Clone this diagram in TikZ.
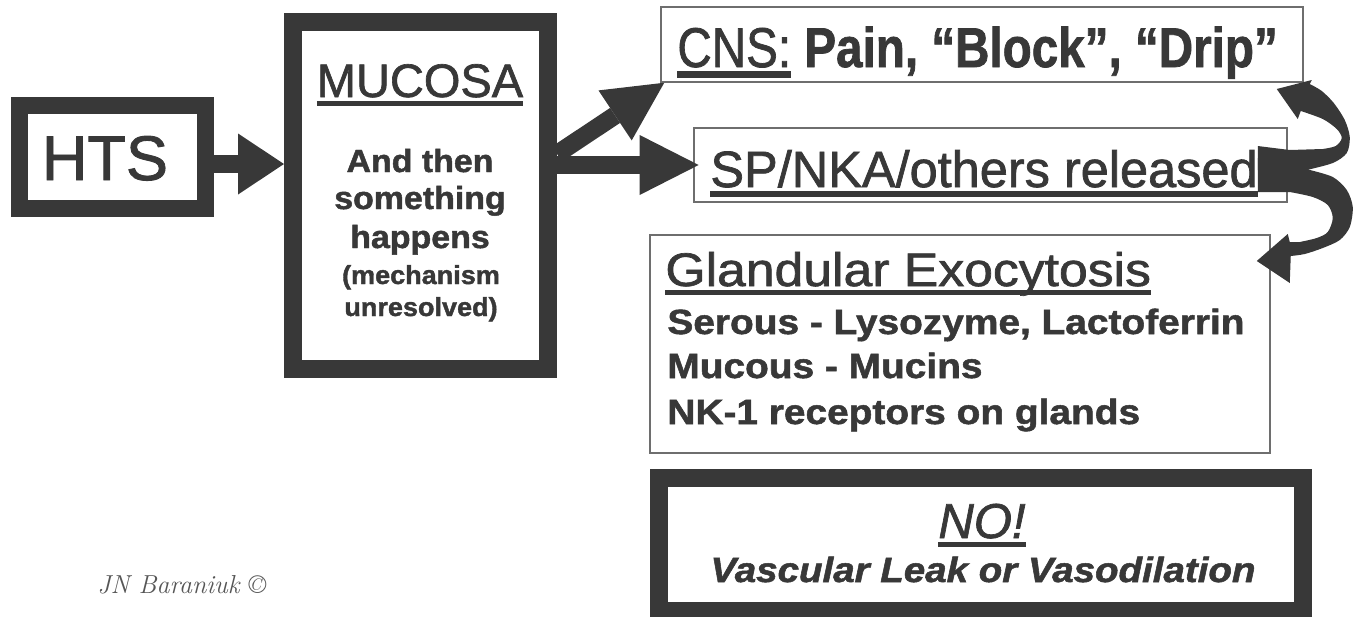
\documentclass[tikz,border=0pt]{standalone}
\usepackage{fontspec}
\newfontfamily\arial[FakeBold=1.4]{Liberation Sans}
\usetikzlibrary{arrows.meta,calc}
\definecolor{dk}{HTML}{383838}
\definecolor{thinc}{HTML}{6E6E6E}
\newsavebox\ulbox
\newcommand\ulx[1]{\sbox\ulbox{#1}\rlap{\rule[-0.19em]{\wd\ulbox}{0.11em}}\usebox\ulbox}
\newcommand\fsz[1]{\fontsize{#1}{#1}\selectfont}
\tikzset{
  heavybox/.style={draw=dk, line width=9pt, inner sep=0pt, fill=white},
  lightbox/.style={draw=thinc, line width=0.75pt, inner sep=0pt, fill=white},
  txt/.style={text=dk, inner sep=0pt},
  fatarrow/.style={draw=dk, line width=9pt},
  blockarrow/.style={fill=dk, draw=none},
}
\begin{document}
\begin{tikzpicture}[x=0.5pt,y=-0.5pt]
\useasboundingbox (0,0) rectangle (1360,616);

% boxes
\node[heavybox, line width=8.5pt, minimum width=93pt, minimum height=51.5pt] (hts) at (112.5,157) {};
\node[heavybox, minimum width=127.5pt, minimum height=173.5pt] (mucosa) at (420.5,195.5) {};
\node[lightbox, minimum width=321pt, minimum height=37.5pt] (cns) at (982,44.5) {};
\node[lightbox, minimum width=296.5pt, minimum height=37pt] (sp) at (990.5,165) {};
\node[lightbox, minimum width=310pt, minimum height=109pt] (gland) at (960,344) {};
\node[heavybox, minimum width=322pt, minimum height=66.5pt] (no) at (981,544.5) {};

% texts
\node[txt, anchor=base, font=\arial\fsz{31.5pt}] (htsT) at (105,180) {HTS};
\node[txt, anchor=base, font=\arial\fsz{23.5pt}] (mucT) at (420,97) {\ulx{MUCOSA}};
\node[txt, anchor=base, font=\arial\bfseries\fsz{16pt}] (m1) at (420,172) {\scalebox{1.06}[1]{And then}};
\node[txt, anchor=base, font=\arial\bfseries\fsz{16pt}] (m2) at (420,209) {\scalebox{1.06}[1]{something}};
\node[txt, anchor=base, font=\arial\bfseries\fsz{16pt}] (m3) at (420,248) {\scalebox{1.06}[1]{happens}};
\node[txt, anchor=base, font=\arial\bfseries\fsz{13pt}] (m4) at (421,284) {\scalebox{1.04}[1]{(mechanism}};
\node[txt, anchor=base, font=\arial\bfseries\fsz{13pt}] (m5) at (421,316) {\scalebox{1.04}[1]{unresolved)}};

\node[txt, anchor=base west, font=\arial\fsz{28pt}] (cnsT) at (677,67) {\scalebox{0.85}[1]{\ulx{CNS:} \textbf{Pain, “Block”, “Drip”}}};
\node[txt, anchor=base west, font=\arial\fsz{25.5pt}] (spT) at (710,187) {\scalebox{0.99}[1]{\ulx{SP/NKA/others released}}};

\node[txt, anchor=base west, font=\arial\fsz{23.5pt}] (g0) at (665,286) {\scalebox{1.1}[1]{\ulx{Glandular Exocytosis}}};
\node[txt, anchor=base west, font=\arial\bfseries\fsz{17.5pt}] (g1) at (667,334) {\scalebox{1.11}[1]{Serous - Lysozyme, Lactoferrin}};
\node[txt, anchor=base west, font=\arial\bfseries\fsz{17.5pt}] (g2) at (667,378) {\scalebox{1.11}[1]{Mucous - Mucins}};
\node[txt, anchor=base west, font=\arial\bfseries\fsz{17.5pt}] (g3) at (667,424) {\scalebox{1.11}[1]{NK-1 receptors on glands}};

\node[txt, anchor=base, font=\arial\itshape\fsz{24.5pt}] (noT) at (982,538) {\ulx{NO!}};
\node[txt, anchor=base, font=\arial\bfseries\itshape\fsz{17.5pt}] (noT2) at (983,582) {\scalebox{1.1}[1]{Vascular Leak or Vasodilation}};

\node[anchor=base west, inner sep=0pt, text=dk!85, font=\itshape\fsz{13pt}] (sig) at (97,593) {JN Baraniuk \textcopyright};

% straight arrows
\coordinate (a1) at ([yshift=-3.5pt]hts.east);
\draw[fatarrow, -{Triangle[length=23pt,width=30.5pt,line width=0pt]}] (a1) -- (a1 -| mucosa.west);
\draw[fatarrow, -{Triangle[length=29.5pt,width=30pt,line width=0pt]}] (mucosa.east |- sp.west) -- ([xshift=2.7pt]sp.west);
\draw[fatarrow, -{Triangle[length=29.5pt,width=30pt,line width=0pt]}] ([yshift=20.75pt]mucosa.east) -- ([xshift=2pt]cns.south west);

% curved block arrows (anchored on sp.east)
\begin{scope}[shift={($(sp.east)-(1288,165)$)}]
\fill[blockarrow] (1258,146) -- (1290,150)
  -- plot[smooth] coordinates {(1323,149) (1336,146) (1342,138) (1337,129) (1323,119) (1301,111)}
  -- (1298,119) -- (1277,89) -- (1312,80)
  -- plot[smooth] coordinates {(1310,84) (1322,91) (1334,103) (1345,120) (1350,137) (1347,153) (1333,163) (1307,170)}
  -- (1258,170) -- cycle;
\fill[blockarrow] (1258,158) -- (1296,163)
  -- plot[smooth] coordinates {(1310,170) (1333,177) (1347,190) (1353,207) (1350,227) (1340,240) (1323,248) (1305,254) (1291,256)}
  -- (1290,283) -- (1257,261) -- (1288,234) -- (1290,242)
  -- plot[smooth] coordinates {(1300,242) (1317,238) (1328,232) (1333,218) (1328,205) (1313,197) (1290,192)}
  -- (1258,192) -- cycle;
\end{scope}
\end{tikzpicture}
\end{document}
